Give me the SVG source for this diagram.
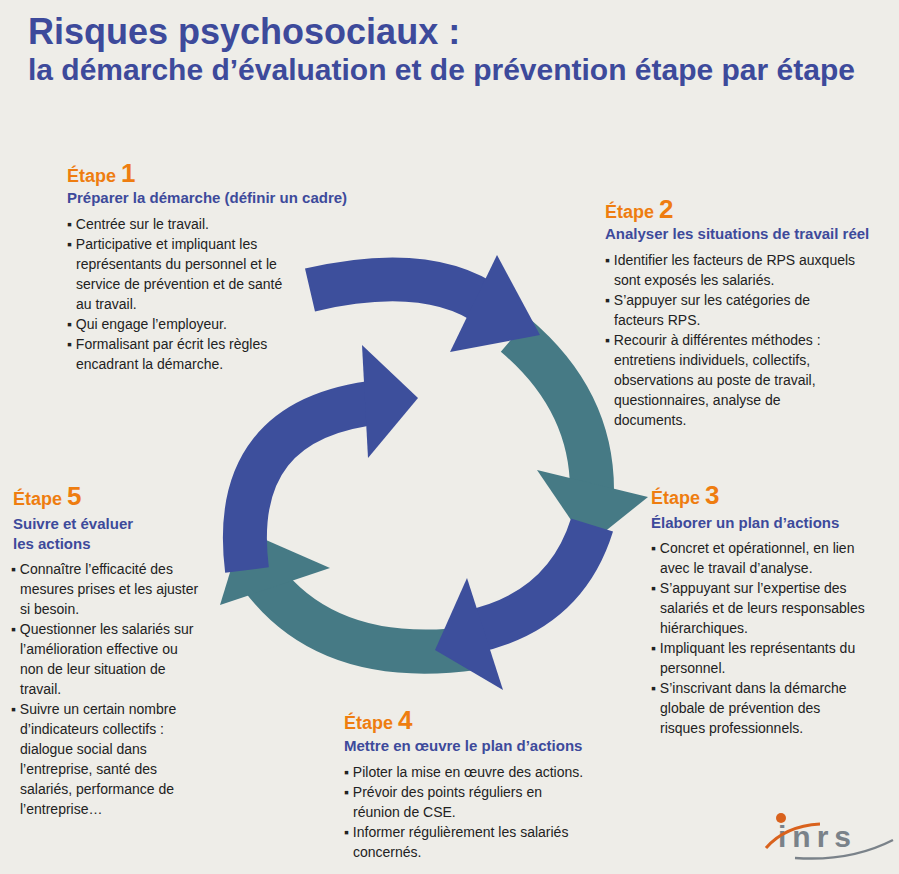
<svg xmlns="http://www.w3.org/2000/svg" width="899" height="874" viewBox="0 0 899 874">
<style>
text{font-family:"Liberation Sans",Arial,sans-serif}
.t1{font-size:36px;font-weight:bold;fill:#3d4a9b}
.t2{font-size:30px;font-weight:bold;fill:#3d4a9b}
.et{font-size:18px;font-weight:bold;fill:#ee7d10}
.num{font-size:26px}
.sub{font-size:15px;font-weight:bold;fill:#3d4a9b}
.b{font-size:14px;fill:#222}
.blue{fill:none;stroke:#3d4f9c;stroke-width:44}
.teal{fill:none;stroke:#467a85;stroke-width:44}
</style>
<rect width="899" height="874" fill="#eeede8"/>
<text class="t1" x="28" y="44">Risques psychosociaux :</text>
<text class="t2" x="28" y="80">la démarche d’évaluation et de prévention étape par étape</text>
<g id="connectors">
<path class="teal" d="M515,335 Q592,400 592,490"/>
<polygon fill="#467a85" points="537,470 648,497 588,545"/>
<path class="teal" d="M475,648 Q330,668 262,578"/>
<polygon fill="#467a85" points="243,530 330,568 220,605"/>
<path class="blue" d="M310,290 Q430,262 492,308"/>
<polygon fill="#3d4f9c" points="497,255 540,335 450,352"/>
<path class="blue" d="M592,525 Q565,612 470,632"/>
<polygon fill="#3d4f9c" points="467,578 503,690 435,650"/>
<path class="blue" d="M247,570 Q228,418 380,402"/>
<polygon fill="#3d4f9c" points="362,345 418,398 368,458"/>
</g>
<g id="etape1">
<text class="et" x="67" y="182">Étape <tspan class="num">1</tspan></text>
<text class="sub" x="67" y="203">Préparer la démarche (définir un cadre)</text>
<text class="b" x="67" y="229">▪ Centrée sur le travail.</text>
<text class="b" x="67" y="249">▪ Participative et impliquant les</text>
<text class="b" x="76" y="269">représentants du personnel et le</text>
<text class="b" x="76" y="289">service de prévention et de santé</text>
<text class="b" x="76" y="309">au travail.</text>
<text class="b" x="67" y="329">▪ Qui engage l’employeur.</text>
<text class="b" x="67" y="349">▪ Formalisant par écrit les règles</text>
<text class="b" x="76" y="369">encadrant la démarche.</text>
</g>
<g id="etape2">
<text class="et" x="605" y="218">Étape <tspan class="num">2</tspan></text>
<text class="sub" x="605" y="239">Analyser les situations de travail réel</text>
<text class="b" x="605" y="265">▪ Identifier les facteurs de RPS auxquels</text>
<text class="b" x="614" y="285">sont exposés les salariés.</text>
<text class="b" x="605" y="305">▪ S’appuyer sur les catégories de</text>
<text class="b" x="614" y="325">facteurs RPS.</text>
<text class="b" x="605" y="345">▪ Recourir à différentes méthodes :</text>
<text class="b" x="614" y="365">entretiens individuels, collectifs,</text>
<text class="b" x="614" y="385">observations au poste de travail,</text>
<text class="b" x="614" y="405">questionnaires, analyse de</text>
<text class="b" x="614" y="425">documents.</text>
</g>
<g id="etape3">
<text class="et" x="651" y="504">Étape <tspan class="num">3</tspan></text>
<text class="sub" x="651" y="528">Élaborer un plan d’actions</text>
<text class="b" x="651" y="553">▪ Concret et opérationnel, en lien</text>
<text class="b" x="660" y="573">avec le travail d’analyse.</text>
<text class="b" x="651" y="593">▪ S’appuyant sur l’expertise des</text>
<text class="b" x="660" y="613">salariés et de leurs responsables</text>
<text class="b" x="660" y="633">hiérarchiques.</text>
<text class="b" x="651" y="653">▪ Impliquant les représentants du</text>
<text class="b" x="660" y="673">personnel.</text>
<text class="b" x="651" y="693">▪ S’inscrivant dans la démarche</text>
<text class="b" x="660" y="713">globale de prévention des</text>
<text class="b" x="660" y="733">risques professionnels.</text>
</g>
<g id="etape4">
<text class="et" x="344" y="729">Étape <tspan class="num">4</tspan></text>
<text class="sub" x="344" y="751">Mettre en œuvre le plan d’actions</text>
<text class="b" x="344" y="777">▪ Piloter la mise en œuvre des actions.</text>
<text class="b" x="344" y="797">▪ Prévoir des points réguliers en</text>
<text class="b" x="353" y="817">réunion de CSE.</text>
<text class="b" x="344" y="837">▪ Informer régulièrement les salariés</text>
<text class="b" x="353" y="857">concernés.</text>
</g>
<g id="etape5">
<text class="et" x="13" y="505">Étape <tspan class="num">5</tspan></text>
<text class="sub" x="13" y="529">Suivre et évaluer</text>
<text class="sub" x="13" y="549">les actions</text>
<text class="b" x="11" y="574">▪ Connaître l’efficacité des</text>
<text class="b" x="20" y="594">mesures prises et les ajuster</text>
<text class="b" x="20" y="614">si besoin.</text>
<text class="b" x="11" y="634">▪ Questionner les salariés sur</text>
<text class="b" x="20" y="654">l’amélioration effective ou</text>
<text class="b" x="20" y="674">non de leur situation de</text>
<text class="b" x="20" y="694">travail.</text>
<text class="b" x="11" y="714">▪ Suivre un certain nombre</text>
<text class="b" x="20" y="734">d’indicateurs collectifs :</text>
<text class="b" x="20" y="754">dialogue social dans</text>
<text class="b" x="20" y="774">l’entreprise, santé des</text>
<text class="b" x="20" y="794">salariés, performance de</text>
<text class="b" x="20" y="814">l’entreprise…</text>
</g>
<g id="logo">
<text x="778" y="847" font-size="30" font-weight="bold" fill="#7a8289" letter-spacing="6">inrs</text>
<circle cx="781" cy="818" r="5" fill="#d9621d"/>
<path d="M766,848 Q785,826 820,824" fill="none" stroke="#d9621d" stroke-width="3"/>
<path d="M795,858 Q850,862 893,840" fill="none" stroke="#7a8289" stroke-width="2.5"/>
</g>
</svg>
